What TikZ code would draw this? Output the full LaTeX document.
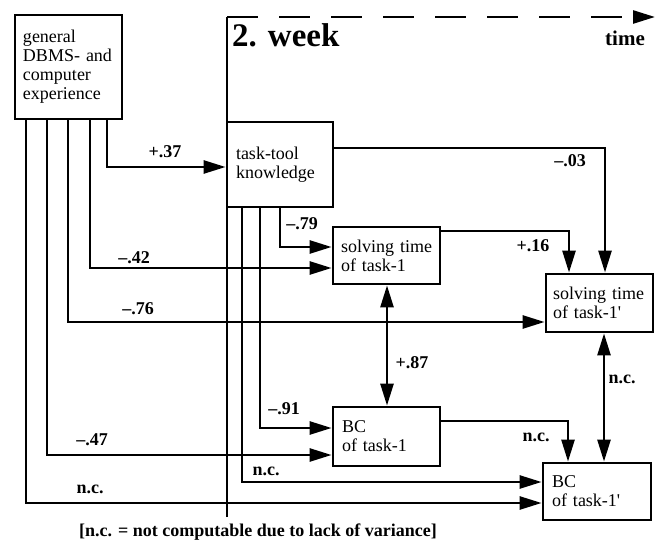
\documentclass[tikz,border=0pt]{standalone}
\usepackage{fontspec}
\setmainfont{Liberation Serif}
\usetikzlibrary{arrows.meta}

\begin{document}
\begin{tikzpicture}[x=1pt, y=-1pt,
  box/.style={draw, line width=2.8pt, align=left, inner xsep=8pt, inner ysep=0pt,
    font=\fontsize{18}{19}\selectfont},
  arr/.style={line width=2.6pt, -{Triangle[length=22pt,width=13pt]}},
  both/.style={line width=2.6pt, {Triangle[length=22pt,width=13pt]}-{Triangle[length=22pt,width=13pt]}},
  lab/.style={font=\fontsize{18}{20}\selectfont\bfseries, inner sep=0pt}]
\useasboundingbox (0,0) rectangle (658,545);
% boxes
\node[box, text width=91pt, minimum height=104pt] (exp) at (68.5,67) {general\\DBMS- and\\computer\\experience};
\node[box, text width=88pt, minimum height=85pt, inner xsep=9pt] (tool) at (280,164.5) {task-tool\\knowledge};
\node[box, text width=91pt, minimum height=57pt] (st1) at (386.5,255.5) {solving time\\of task-1};
\node[box, text width=89pt, minimum height=59pt, inner xsep=9pt] (bc1) at (386.5,436.5) {BC\\of task-1};
\node[box, text width=93pt, minimum height=58pt, inner xsep=7pt] (st2) at (599.5,303) {solving time\\of task-1\textquotesingle};
\node[box, text width=90pt, minimum height=57pt, inner xsep=9pt] (bc2) at (597,491.5) {BC\\of task-1\textquotesingle};
% time line
\coordinate (wkbot) at (227,517);
\coordinate (wktop) at (227,17);
\coordinate (tend) at (655,17);
\draw[line width=2.6pt] (wkbot) -- (wktop);
\draw[arr, dash pattern=on 31pt off 21pt] (wktop) -- (tend);
\node[lab, font=\fontsize{33}{33}\selectfont\bfseries, anchor=base west] (week) at (232,47) {2. week};
\node[lab, font=\fontsize{21}{21}\selectfont\bfseries] (time) at (625,38) {time};
% from experience
\draw[arr] (exp.south -| 107,0) |- (tool.west |- 0,167);
\draw[arr] (exp.south -| 90,0) |- (st1.west |- 0,268);
\draw[arr] (exp.south -| 68,0) |- (st2.west |- 0,322);
\draw[arr] (exp.south -| 47,0) |- (bc1.west |- 0,455);
\draw[arr] (exp.south -| 26,0) |- (bc2.west |- 0,503);
% from task-tool knowledge
\draw[arr] (tool.south -| 280,0) |- (st1.west |- 0,247);
\draw[arr] (tool.south -| 260,0) |- (bc1.west |- 0,428);
\draw[arr] (tool.south -| 242,0) |- (bc2.west |- 0,482);
\draw[arr] (tool.east |- 0,148) -| (st2.north -| 605,0);
% between tasks
\draw[arr] (st1.east |- 0,231) -| (st2.north -| 569,0);
\draw[arr] (bc1.east |- 0,421) -| (bc2.north -| 568,0);
\draw[both] (st1.south -| 387,0) -- (bc1.north -| 387,0);
\draw[both] (st2.south -| 604,0) -- (bc2.north -| 604,0);
% coefficients
\node[lab] (l37) at (165,152) {+.37};
\node[lab] (l42) at (134,258) {--.42};
\node[lab] (l76) at (138,309) {--.76};
\node[lab] (l47) at (92,440) {--.47};
\node[lab] (lnc1) at (90,489) {n.c.};
\node[lab] (l79) at (302,224) {--.79};
\node[lab] (l91) at (284,409) {--.91};
\node[lab] (lnc2) at (266,471) {n.c.};
\node[lab] (l03) at (570,161) {--.03};
\node[lab] (l16) at (533,246) {+.16};
\node[lab] (l87) at (412,363) {+.87};
\node[lab] (lnc3) at (622,379) {n.c.};
\node[lab] (lnc4) at (536,437) {n.c.};
\node[lab] (note) at (258,532) {[n.c. = not computable due to lack of variance]};
\end{tikzpicture}
\end{document}
